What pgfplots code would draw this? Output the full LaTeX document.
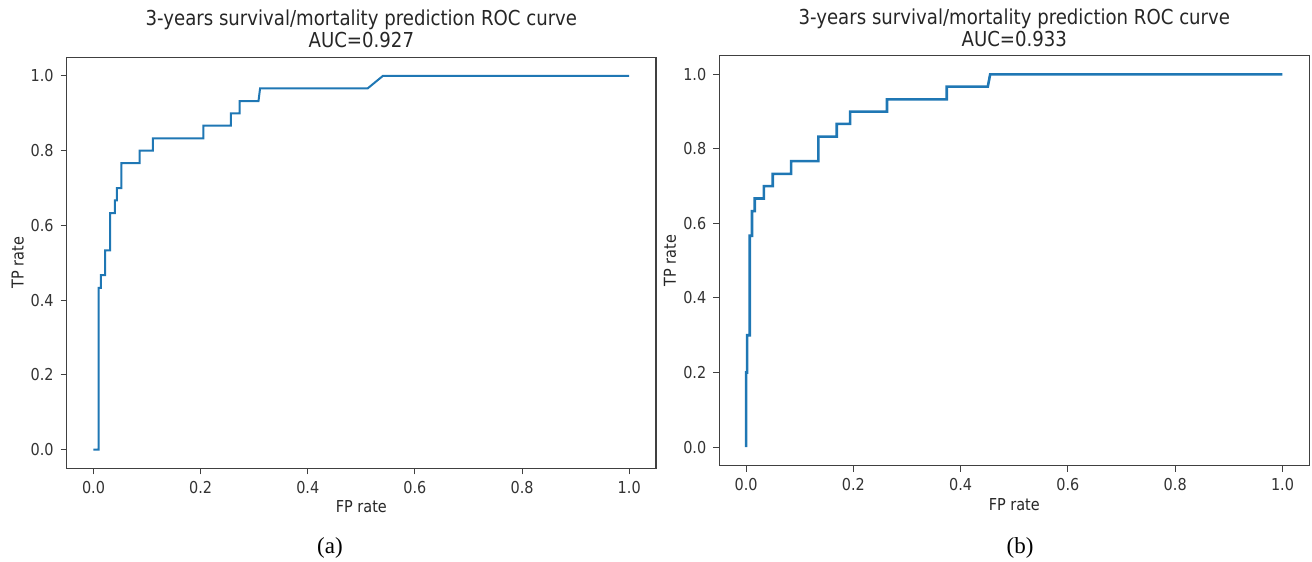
\documentclass[border=0pt]{standalone}
\usepackage{fontspec}
\setsansfont{DejaVu Sans}[FakeStretch=0.88]
\newfontfamily\capfont{Liberation Serif}
\usepackage{pgfplots}
\pgfplotsset{compat=1.18}
\definecolor{mplblue}{HTML}{1F77B4}

\pgfplotsset{
  rocax/.style={
    scale only axis,
    xmin=-0.05, xmax=1.05, ymin=-0.05, ymax=1.05,
    xtick={0,0.2,0.4,0.6,0.8,1.0},
    ytick={0,0.2,0.4,0.6,0.8,1.0},
    xticklabel style={/pgf/number format/.cd,fixed,fixed zerofill,precision=1},
    yticklabel style={/pgf/number format/.cd,fixed,fixed zerofill,precision=1},
    /pgf/number format/assume math mode=true,
    tick label style={font=\sffamily\fontsize{8.2}{9}\selectfont, black!80},
    label style={font=\sffamily\fontsize{8.2}{9}\selectfont, black!85},
    title style={font=\sffamily\fontsize{10.3}{11}\selectfont, black!85, align=center, yshift=-5pt},
    xtick pos=bottom, ytick pos=left,
    tick align=outside, major tick length=3pt,
    axis line style={black!75, line width=0.6pt},
    every tick/.style={black!75, line width=0.5pt},
    xlabel={FP rate}, ylabel={TP rate},
  }
}

\begin{document}
\begin{tikzpicture}
\useasboundingbox (0,0) rectangle (656pt,281pt);

% (a)
\begin{axis}[rocax,
  at={(33.35pt,46.85pt)}, anchor=south west,
  width=294.65pt, height=205.5pt,
  title={3-years survival/mortality prediction ROC curve\\AUC=0.927},
  xlabel style={at={(axis description cs:0.5,-0.094)}, anchor=center},
  ylabel style={at={(axis description cs:-0.083,0.5)}, anchor=center, rotate=0},
]
\addplot[mplblue, line width=1pt] coordinates {
  (0,0) (0.0094,0) (0.0094,0.433) (0.0137,0.433) (0.0137,0.467)
  (0.0218,0.467) (0.0218,0.533) (0.031,0.533) (0.031,0.633)
  (0.040,0.633) (0.040,0.667) (0.0435,0.667) (0.0435,0.7)
  (0.052,0.7) (0.052,0.767) (0.086,0.767) (0.086,0.8)
  (0.111,0.8) (0.111,0.833) (0.205,0.833) (0.205,0.867)
  (0.2565,0.867) (0.2565,0.9) (0.273,0.9) (0.273,0.933)
  (0.308,0.933) (0.311,0.967) (0.512,0.967) (0.540,1.0) (1.0,1.0)
};
\end{axis}

% (b)
\begin{axis}[rocax,
  at={(359.65pt,48.15pt)}, anchor=south west,
  width=295pt, height=205pt,
  title={3-years survival/mortality prediction ROC curve\\AUC=0.933},
  xlabel style={at={(axis description cs:0.5,-0.096)}, anchor=center},
  ylabel style={at={(axis description cs:-0.0836,0.5)}, anchor=center, rotate=0},
]
\addplot[mplblue, line width=1.3pt] coordinates {
  (0,0) (0,0.2) (0.0019,0.2) (0.0019,0.3) (0.0067,0.3) (0.0067,0.567)
  (0.011,0.567) (0.011,0.633) (0.016,0.633) (0.016,0.667)
  (0.033,0.667) (0.033,0.7) (0.0496,0.7) (0.0496,0.733)
  (0.084,0.733) (0.084,0.767) (0.1346,0.767) (0.1346,0.833)
  (0.169,0.833) (0.169,0.867) (0.194,0.867) (0.194,0.9)
  (0.2626,0.9) (0.2626,0.933) (0.374,0.933) (0.374,0.967)
  (0.4506,0.967) (0.455,1.0) (1.0,1.0)
};
\end{axis}

\node[font=\capfont\fontsize{11.5}{13}\selectfont] at (165pt,7pt) {(a)};
\node[font=\capfont\fontsize{11.5}{13}\selectfont] at (510pt,7pt) {(b)};
\end{tikzpicture}
\end{document}
